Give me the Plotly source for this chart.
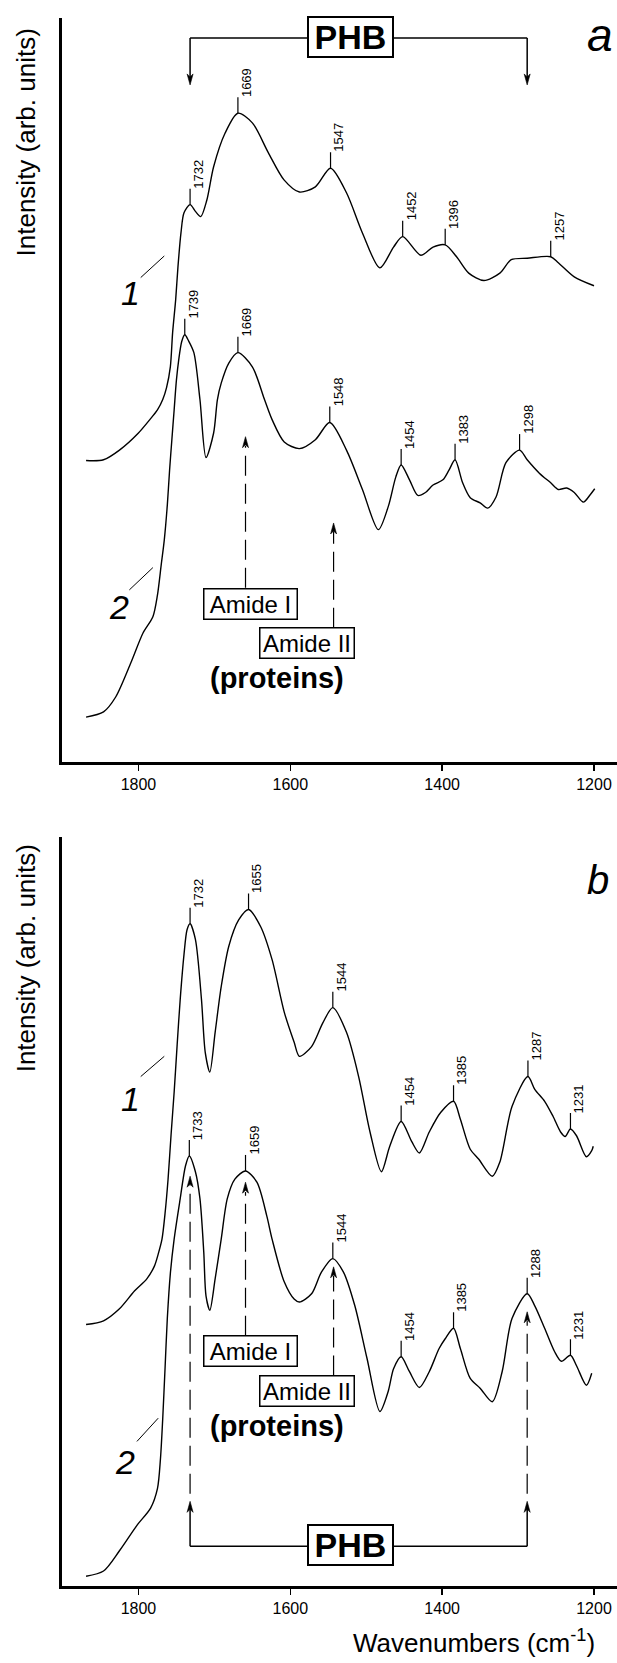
import numpy as np
import plotly.graph_objects as go

FONT = "Liberation Sans, Arial, sans-serif"

# ---------------- data (wavenumber cm-1, intensity arb. units) ----------------
tick_vals = [1800, 1600, 1400, 1200]
x_range = [1900.7, 1169.7]

wn_a1 = [1869, 1846, 1825, 1800, 1785, 1775, 1768, 1763, 1758, 1755, 1751, 1748, 1744, 1740,
         1732, 1725, 1718, 1710, 1701, 1686, 1669, 1650, 1629, 1608, 1588, 1567, 1547, 1526,
         1505, 1482, 1464, 1452, 1428, 1412, 1396, 1381, 1365, 1345, 1324, 1309, 1288, 1257,
         1247, 1226, 1200]
int_a1 = [40.5, 40.6, 41.9, 44.2, 46.0, 47.3, 48.7, 50.3, 53.1, 57.7, 62.1, 66.5, 71.1, 73.8,
          74.9, 74.0, 73.3, 75.5, 80.0, 84.5, 87.2, 85.9, 81.9, 78.2, 76.6, 77.3, 79.8, 76.5,
          71.1, 66.4, 69.2, 70.6, 68.1, 69.2, 69.5, 67.9, 65.7, 64.7, 65.7, 67.5, 67.7, 67.9,
          67.1, 65.2, 64.0]

wn_a2 = [1869, 1846, 1830, 1810, 1794, 1781, 1775, 1770, 1766, 1762, 1759, 1756, 1753, 1750,
         1747, 1743, 1739, 1734, 1727, 1719, 1711, 1701, 1696, 1691, 1681, 1669, 1650, 1634,
         1624, 1608, 1588, 1567, 1548, 1526, 1505, 1484, 1471, 1461, 1454, 1443, 1432, 1422,
         1412, 1399, 1391, 1383, 1373, 1363, 1350, 1340, 1329, 1316, 1298, 1288, 1272, 1257,
         1247, 1236, 1226, 1214, 1205, 1199]
int_a2 = [6.0, 6.7, 8.7, 13.3, 17.3, 19.5, 22.4, 26.5, 29.8, 34.5, 39.2, 43.3, 47.3, 51.3,
          54.0, 56.5, 57.4, 56.6, 55.0, 48.7, 40.9, 44.2, 48.7, 50.9, 53.6, 55.0, 53.1, 48.7,
          46.0, 43.0, 42.1, 43.3, 45.6, 41.9, 36.6, 31.2, 34.3, 38.3, 39.9, 37.9, 35.8, 36.2,
          37.2, 37.9, 39.2, 40.6, 37.5, 35.5, 34.8, 34.1, 35.6, 40.2, 41.9, 40.6, 38.8, 37.5,
          36.6, 36.8, 36.2, 34.9, 35.9, 36.7]

wn_b1 = [1869, 1846, 1825, 1805, 1789, 1779, 1774, 1769, 1765, 1761, 1757, 1753, 1749, 1745,
         1740, 1736, 1732, 1725, 1717, 1712, 1706, 1699, 1691, 1681, 1668, 1655, 1639, 1624,
         1608, 1595, 1588, 1572, 1557, 1544, 1526, 1510, 1495, 1480, 1469, 1454, 1440, 1430,
         1417, 1402, 1385, 1376, 1363, 1352, 1334, 1324, 1308, 1287, 1278, 1265, 1254, 1244,
         1238, 1231, 1223, 1210, 1203, 1201]
int_b1 = [34.9, 35.4, 37.0, 39.4, 41.0, 42.7, 44.3, 46.3, 49.7, 54.3, 60.3, 65.9, 72.3, 78.3,
          84.3, 87.6, 88.4, 86.3, 78.3, 71.2, 68.6, 73.9, 80.0, 85.4, 88.9, 90.3, 88.0, 83.6,
          76.6, 72.6, 70.7, 72.0, 75.2, 77.2, 73.9, 68.0, 60.6, 55.3, 58.7, 62.0, 59.3, 57.8,
          60.6, 63.2, 64.7, 62.3, 58.3, 57.0, 54.7, 56.6, 64.0, 68.0, 66.3, 64.7, 62.7, 60.6,
          60.0, 61.0, 60.1, 57.3, 58.1, 58.7]

wn_b2 = [1869, 1846, 1825, 1802, 1784, 1775, 1771, 1768, 1765, 1762, 1758, 1753, 1745, 1738,
         1733, 1725, 1719, 1714, 1711, 1706, 1699, 1691, 1683, 1673, 1659, 1644, 1631, 1624,
         1608, 1595, 1588, 1572, 1559, 1544, 1530, 1515, 1499, 1482, 1471, 1464, 1454, 1443,
         1430, 1417, 1404, 1396, 1385, 1376, 1363, 1350, 1334, 1321, 1308, 1288, 1278, 1265,
         1252, 1243, 1231, 1223, 1210, 1203]
int_b2 = [1.3, 2.0, 4.7, 8.1, 10.4, 13.0, 17.0, 22.4, 29.0, 35.7, 41.7, 46.3, 51.7, 56.1,
          57.4, 55.3, 51.7, 44.6, 38.7, 36.8, 41.0, 46.3, 51.7, 54.3, 55.4, 53.9, 49.4, 46.3,
          40.6, 38.3, 37.9, 39.0, 41.9, 43.7, 41.9, 37.4, 30.4, 23.3, 26.0, 29.0, 30.6, 28.6,
          26.5, 28.6, 31.7, 33.0, 34.4, 31.7, 27.7, 26.4, 24.6, 28.6, 35.7, 39.0, 37.4, 34.4,
          31.3, 30.0, 30.8, 29.4, 26.8, 28.4]

peaks_a1 = [1732, 1669, 1547, 1452, 1396, 1257]
peaks_a2 = [1739, 1669, 1548, 1454, 1383, 1298]
peaks_b1 = [1732, 1655, 1544, 1454, 1385, 1287, 1231]
peaks_b2 = [1733, 1659, 1544, 1454, 1385, 1288, 1231]

phb_bands = [1732, 1288]
amide_bands = [1659, 1543]
amide_labels = ["Amide I", "Amide II"]

# ---------------- figure ----------------
W, H = 617, 1663
fig = go.Figure()
LINE = dict(color="black", width=1.4, shape="spline", smoothing=0.8)

for wn, iv, xa, ya in [(wn_a1, int_a1, "x", "y"), (wn_a2, int_a2, "x", "y"),
                       (wn_b1, int_b1, "x2", "y2"), (wn_b2, int_b2, "x2", "y2")]:
    fig.add_trace(go.Scatter(x=wn, y=iv, mode="lines", line=LINE, xaxis=xa, yaxis=ya,
                             hoverinfo="skip", showlegend=False))

shapes = []
annots = []


def peak_labels(wn, iv, peaks, xr, yr):
    for p in peaks:
        v = float(np.interp(p, wn[::-1], iv[::-1]))
        shapes.append(dict(type="line", xref=xr, yref=yr, x0=p, x1=p, ysizemode="pixel",
                           yanchor=v, y0=0, y1=16, line=dict(color="black", width=1.2)))
        annots.append(dict(x=p, y=v, xref=xr, yref=yr, text=str(p), textangle=-90,
                           showarrow=False, xanchor="left", yanchor="bottom", yshift=14,
                           xshift=-1, font=dict(size=13, family=FONT, color="black")))


peak_labels(wn_a1, int_a1, peaks_a1, "x", "y")
peak_labels(wn_a2, int_a2, peaks_a2, "x", "y")
peak_labels(wn_b1, int_b1, peaks_b1, "x2", "y2")
peak_labels(wn_b2, int_b2, peaks_b2, "x2", "y2")

UP = "M-3,-11 L0,0 L3,-11 L0,-8 Z"
DOWN = "M-3,11 L0,0 L3,11 L0,8 Z"


def head(x, y, xr, yr, up=True):
    shapes.append(dict(type="path", xref=xr, yref=yr, xsizemode="pixel", ysizemode="pixel",
                       xanchor=x, yanchor=y, path=UP if up else DOWN, fillcolor="black",
                       line=dict(color="black", width=0.6)))


def box(x, y, xr, yr, text, size, w, h, bw=1.5, bold=False):
    annots.append(dict(x=x, y=y, xref=xr, yref=yr, text=f"<b>{text}</b>" if bold else text,
                       showarrow=False, bgcolor="white", bordercolor="black", borderwidth=bw,
                       borderpad=1, width=w, height=h, xanchor="center", yanchor="middle",
                       font=dict(size=size, family=FONT, color="black")))


def text(x, y, xr, yr, t, size, italic=False, bold=False, xanchor="center"):
    if italic:
        t = f"<i>{t}</i>"
    if bold:
        t = f"<b>{t}</b>"
    annots.append(dict(x=x, y=y, xref=xr, yref=yr, text=t, showarrow=False,
                       xanchor=xanchor, yanchor="middle",
                       font=dict(size=size, family=FONT, color="black")))


def seg(x0, y0, x1, y1, xr, yr, dash="solid", width=1.2):
    shapes.append(dict(type="line", xref=xr, yref=yr, x0=x0, y0=y0, x1=x1, y1=y1,
                       line=dict(color="black", width=width, dash=dash)))


DASH = "20px,8px"

# ---- panel a annotations ----
text(1192, 97.7, "x", "y", "a", 46, italic=True)
seg(phb_bands[0], 97.3, phb_bands[1], 97.3, "x", "y", width=1.5)
for b in phb_bands:
    seg(b, 97.3, b, 92.0, "x", "y", width=1.5)
    head(b, 91.0, "x", "y", up=False)
box(1521, 97.4, "x", "y", "PHB", 34, 81, 36, bw=2, bold=True)
text(1810, 63.0, "x", "y", "1", 34, italic=True)
seg(1797, 65.1, 1766, 68.0, "x", "y", width=1)
text(1825, 20.8, "x", "y", "2", 34, italic=True)
seg(1812, 23.1, 1781, 26.1, "x", "y", width=1)
seg(amide_bands[0], 23.4, amide_bands[0], 42.5, "x", "y", dash=DASH)
head(amide_bands[0], 43.7, "x", "y")
seg(amide_bands[1], 18.0, amide_bands[1], 31.0, "x", "y", dash=DASH)
head(amide_bands[1], 32.1, "x", "y")
box(1652, 21.2, "x", "y", amide_labels[0], 24, 90, 27)
box(1578, 15.9, "x", "y", amide_labels[1], 24, 91, 27)
text(1617, 11.3, "x", "y", "(proteins)", 29, bold=True)

# ---- panel b annotations ----
text(1195, 94.3, "x2", "y2", "b", 40, italic=True)
text(1810, 65.0, "x2", "y2", "1", 34, italic=True)
seg(1797, 68.0, 1766, 70.7, "x2", "y2", width=1)
text(1818, 16.6, "x2", "y2", "2", 34, italic=True)
seg(1802, 19.3, 1774, 22.4, "x2", "y2", width=1)
seg(amide_bands[0], 33.4, amide_bands[0], 52.6, "x2", "y2", dash=DASH)
head(amide_bands[0], 53.9, "x2", "y2")
seg(amide_bands[1], 28.1, amide_bands[1], 41.4, "x2", "y2", dash=DASH)
head(amide_bands[1], 42.6, "x2", "y2")
box(1652, 31.3, "x2", "y2", amide_labels[0], 24, 90, 27)
box(1578, 26.0, "x2", "y2", amide_labels[1], 24, 91, 27)
text(1617, 21.4, "x2", "y2", "(proteins)", 29, bold=True)
seg(phb_bands[0], 5.3, phb_bands[1], 5.3, "x2", "y2", width=1.5)
for b, tip in zip(phb_bands, [54.7, 36.6]):
    seg(b, 5.3, b, 10.3, "x2", "y2", width=1.5)
    head(b, 11.3, "x2", "y2")
    seg(b, 12.3, b, tip - 1.2, "x2", "y2", dash=DASH)
    head(b, tip, "x2", "y2")
box(1521, 5.5, "x2", "y2", "PHB", 34, 81, 36, bw=2, bold=True)

# ---- axis titles ----
for yr, yv in [("y domain", 0.988), ("y2 domain", 0.992)]:
    annots.append(dict(x=-0.0657, y=yv, xref="paper", yref=yr, text="Intensity (arb. units)",
                       textangle=-90, showarrow=False, xanchor="center", yanchor="top",
                       font=dict(size=26, family=FONT, color="black")))
annots.append(dict(x=0.7426, y=-0.0475, xref="paper", yref="paper",
                   text="Wavenumbers (cm<sup>-1</sup>)", showarrow=False,
                   xanchor="center", yanchor="bottom",
                   font=dict(size=26, family=FONT, color="black")))

XAX = dict(range=x_range, showline=True, linewidth=3, linecolor="black", ticks="outside",
           ticklen=6, tickwidth=1.5, tickcolor="black", tickvals=tick_vals,
           tickfont=dict(size=16, family=FONT, color="black"), showgrid=False, zeroline=False,
           fixedrange=True)
YAX = dict(range=[0, 100], showline=True, linewidth=3, linecolor="black", ticks="",
           showticklabels=False, showgrid=False, zeroline=False, fixedrange=True)

fig.update_layout(
    width=W, height=H,
    margin=dict(l=61.5, r=0, t=18, b=76.5, pad=0),
    paper_bgcolor="white", plot_bgcolor="white",
    xaxis=dict(**XAX, domain=[0, 1], anchor="y"),
    yaxis=dict(**YAX, domain=[0.5257, 1], anchor="x"),
    xaxis2=dict(**XAX, domain=[0, 1], anchor="y2"),
    yaxis2=dict(**YAX, domain=[0, 0.4778], anchor="x2"),
    shapes=shapes,
    annotations=annots,
    showlegend=False,
)

fig.write_html("out.html", config={"displayModeBar": False, "staticPlot": True},
               post_script="document.body.style.margin='0px';")
